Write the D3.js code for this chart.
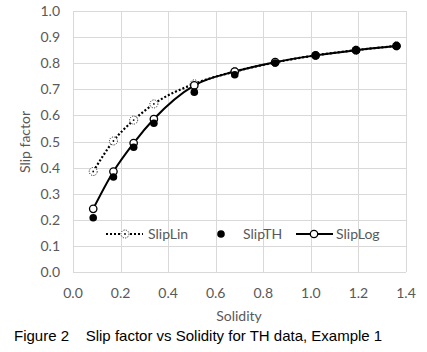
<!DOCTYPE html>
<html>
<head>
<meta charset="utf-8">
<script src="https://cdn.jsdelivr.net/npm/d3@7"></script>
<style>
    body { margin: 0; background: #ffffff; }
    text { font-family: Lato, 'Open Sans', sans-serif; }
</style>
</head>
<body>
<div id="graph"></div>
<script>
// solidity values (x)
var solidity = [0.085, 0.17, 0.255, 0.34, 0.51, 0.68, 0.85, 1.02, 1.19, 1.36];
// slip factor series
var slipLin = [0.385, 0.502, 0.582, 0.644, 0.721, 0.768, 0.803, 0.830, 0.850, 0.866];
var slipTH = [0.208, 0.364, 0.478, 0.570, 0.689, 0.756, 0.801, 0.829, 0.849, 0.866];
var slipLog = [0.242, 0.385, 0.494, 0.586, 0.715, 0.768, 0.804, 0.830, 0.850, 0.866];

var xTicks = [0.0, 0.2, 0.4, 0.6, 0.8, 1.0, 1.2, 1.4];
var yTicks = [0.0, 0.1, 0.2, 0.3, 0.4, 0.5, 0.6, 0.7, 0.8, 0.9, 1.0];

var width = 427,
    height = 352;

var plotLeft = 73, plotRight = 406, plotTop = 11, plotBottom = 272;
var grid = '#d9d9d9',
    label = '#595959';

var svg = d3.select('#graph')
    .append('svg')
        .attr('width', width)
        .attr('height', height);

var x = d3.scaleLinear()
    .domain([0, 1.4])
    .range([plotLeft, plotRight]);

var y = d3.scaleLinear()
    .domain([0, 1.0])
    .range([plotBottom, plotTop]);

// gridlines
svg.append('g')
    .selectAll('line')
    .data(yTicks)
    .enter().append('line')
    .attr('x1', plotLeft)
    .attr('x2', plotRight)
    .attr('y1', function(d) { return Math.round(y(d)) + 0.5; })
    .attr('y2', function(d) { return Math.round(y(d)) + 0.5; })
    .style('stroke', grid);

svg.append('g')
    .selectAll('line')
    .data(xTicks)
    .enter().append('line')
    .attr('x1', function(d) { return Math.round(x(d)) + 0.5; })
    .attr('x2', function(d) { return Math.round(x(d)) + 0.5; })
    .attr('y1', plotTop)
    .attr('y2', plotBottom)
    .style('stroke', grid);

// tick labels
svg.append('g')
    .selectAll('text')
    .data(yTicks)
    .enter().append('text')
    .attr('x', 60)
    .attr('y', function(d) { return y(d) + 5; })
    .attr('text-anchor', 'end')
    .style('font-size', '14px')
    .style('fill', label)
    .text(function(d) { return d.toFixed(1); });

svg.append('g')
    .selectAll('text')
    .data(xTicks)
    .enter().append('text')
    .attr('x', function(d) { return x(d); })
    .attr('y', 298)
    .attr('text-anchor', 'middle')
    .style('font-size', '14px')
    .style('fill', label)
    .text(function(d) { return d.toFixed(1); });

// axis titles
svg.append('text')
    .attr('x', 239)
    .attr('y', 321)
    .attr('text-anchor', 'middle')
    .style('font-size', '14px')
    .style('fill', label)
    .text('Solidity');

svg.append('text')
    .attr('transform', 'translate(30,142) rotate(-90)')
    .attr('text-anchor', 'middle')
    .style('font-size', '14px')
    .style('fill', label)
    .text('Slip factor');

// series
var linData = solidity.map(function(s, i) { return [s, slipLin[i]]; });
var thData = solidity.map(function(s, i) { return [s, slipTH[i]]; });
var logData = solidity.map(function(s, i) { return [s, slipLog[i]]; });

var line = d3.line()
    .x(function(d) { return x(d[0]); })
    .y(function(d) { return y(d[1]); })
    .curve(d3.curveMonotoneX);

svg.append('path')
    .datum(linData)
    .attr('d', line)
    .style('fill', 'none')
    .style('stroke', '#000')
    .style('stroke-width', 2.2)
    .style('stroke-dasharray', '2,2');

function linMarker(g, cx, cy) {
    g.append('circle')
        .attr('cx', cx).attr('cy', cy).attr('r', 4)
        .style('fill', '#fff')
        .style('stroke', '#000')
        .style('stroke-width', 0.8)
        .style('stroke-dasharray', '1.2,1.2');
    g.append('circle')
        .attr('cx', cx).attr('cy', cy).attr('r', 0.9)
        .style('fill', '#000');
}

function thMarker(g, cx, cy) {
    g.append('circle')
        .attr('cx', cx).attr('cy', cy).attr('r', 3.8)
        .style('fill', '#000');
}

function logMarker(g, cx, cy) {
    g.append('circle')
        .attr('cx', cx).attr('cy', cy).attr('r', 3.7)
        .style('fill', '#fff')
        .style('stroke', '#000')
        .style('stroke-width', 1.3);
}

var marks = svg.append('g');
linData.forEach(function(d) { linMarker(marks, x(d[0]), y(d[1])); });

svg.append('path')
    .datum(logData)
    .attr('d', line)
    .style('fill', 'none')
    .style('stroke', '#000')
    .style('stroke-width', 2);

var marks2 = svg.append('g');
logData.forEach(function(d) { logMarker(marks2, x(d[0]), y(d[1])); });
thData.forEach(function(d) { thMarker(marks2, x(d[0]), y(d[1])); });

// legend
var legend = svg.append('g');
var ly = 234;
legend.append('line')
    .attr('x1', 106).attr('x2', 143).attr('y1', ly).attr('y2', ly)
    .style('stroke', '#000')
    .style('stroke-width', 2.2)
    .style('stroke-dasharray', '2,2');
linMarker(legend, 125, ly);
legend.append('text')
    .attr('x', 148).attr('y', ly + 5)
    .style('font-size', '14px')
    .style('fill', label)
    .text('SlipLin');

thMarker(legend, 221, ly);
legend.append('text')
    .attr('x', 243).attr('y', ly + 5)
    .style('font-size', '14px')
    .style('fill', label)
    .text('SlipTH');

legend.append('line')
    .attr('x1', 296).attr('x2', 333).attr('y1', ly).attr('y2', ly)
    .style('stroke', '#000')
    .style('stroke-width', 2);
logMarker(legend, 314, ly);
legend.append('text')
    .attr('x', 336).attr('y', ly + 5)
    .style('font-size', '14px')
    .style('fill', label)
    .text('SlipLog');

// caption
svg.append('text')
    .attr('x', 14)
    .attr('y', 341)
    .style('font-family', "'Liberation Sans', Arial, sans-serif")
    .style('font-size', '15px')
    .style('fill', '#000')
    .style('white-space', 'pre')
    .text('Figure 2    Slip factor vs Solidity for TH data, Example 1');
</script>
</body>
</html>
